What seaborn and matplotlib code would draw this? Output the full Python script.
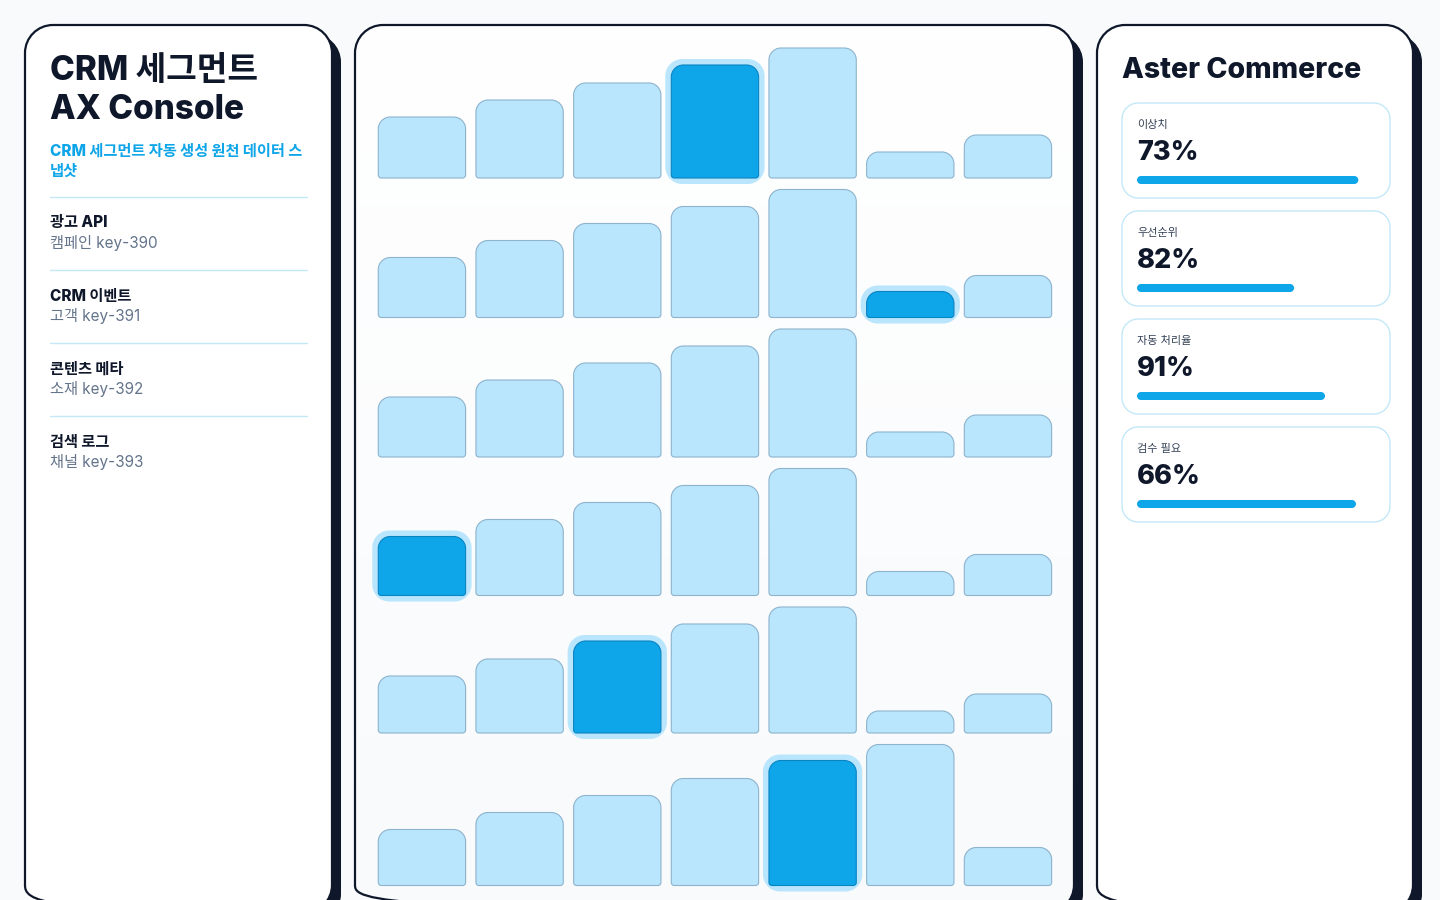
import matplotlib
matplotlib.use("Agg")
import matplotlib.pyplot as plt
import seaborn as sns
import numpy as np
from matplotlib.path import Path
from matplotlib.patches import PathPatch
from matplotlib.colors import LinearSegmentedColormap

# ---- data ----
slots = ["s1", "s2", "s3", "s4", "s5", "s6", "s7"]
row1 = [61, 78, 95, 113, 130, 26, 43]
row2 = [60, 77, 94, 111, 128, 26, 42]
row3 = [60, 77, 94, 111, 128, 25, 42]
row4 = [59, 76, 93, 110, 127, 24, 41]
row5 = [57, 74, 92, 109, 126, 22, 39]
row6 = [56, 73, 90, 107, 125, 141, 38]
rows = [row1, row2, row3, row4, row5, row6]
focus = [3, 5, None, 0, 2, 4]

src_names = ["광고 API", "CRM 이벤트", "콘텐츠 메타", "검색 로그"]
src_keys = ["캠페인 key-390", "고객 key-391", "소재 key-392", "채널 key-393"]

kpi_labels = ["이상치", "우선순위", "자동 처리율", "검수 필요"]
kpi_values = [73, 82, 91, 66]
kpi_fill = [93, 66, 79, 92]

# ---- style ----
W, H = 1440, 900
NAVY = "#0f172a"
SKY = "#0ea5e9"
PALE = "#bae6fd"
EDGE = "#8db3cd"
LINE = "#c3e8f8"
FONT = ["Inter", "Noto Sans CJK KR", "DejaVu Sans"]

sns.set_theme(style="white")
plt.rcParams["font.family"] = FONT


def rpath(x0, y0, w, h, rt, rb, sx=1.0, sy=1.0):
    # rectangle with radius rt at y0+h side and rb at y0 side (radii in px)
    k = 0.5523
    tx, ty, bx, by = rt * sx, rt * sy, rb * sx, rb * sy
    x1, y1 = x0 + w, y0 + h
    verts = [
        (x0 + bx, y0), (x1 - bx, y0),
        (x1 - bx + k * bx, y0), (x1, y0 + by - k * by), (x1, y0 + by),
        (x1, y1 - ty),
        (x1, y1 - ty + k * ty), (x1 - tx + k * tx, y1), (x1 - tx, y1),
        (x0 + tx, y1),
        (x0 + tx - k * tx, y1), (x0, y1 - ty + k * ty), (x0, y1 - ty),
        (x0, y0 + by),
        (x0, y0 + by - k * by), (x0 + bx - k * bx, y0), (x0 + bx, y0),
        (x0 + bx, y0),
    ]
    C = Path.CURVE4
    codes = [Path.MOVETO, Path.LINETO, C, C, C, Path.LINETO, C, C, C,
             Path.LINETO, C, C, C, Path.LINETO, C, C, C, Path.CLOSEPOLY]
    return Path(verts, codes)


fig = plt.figure(figsize=(14.4, 9), dpi=100)
fig.patch.set_facecolor("#f8fafc")

bg = fig.add_axes([0, 0, 1, 1])
bg.set_xlim(0, W)
bg.set_ylim(H, 0)
bg.axis("off")

# panels: shadow, fill, border
panels = [(25, 307), (355, 719), (1097, 316)]
ptop, pheight = 25, 888
for i, (px, pw) in enumerate(panels):
    bg.add_patch(PathPatch(rpath(px + 9, ptop + 9, pw, pheight, 28, 28),
                           fc=NAVY, ec="none", zorder=1))
    face = PathPatch(rpath(px, ptop, pw, pheight, 28, 28), fc="white",
                     ec="none", zorder=2)
    bg.add_patch(face)
    if i == 1:
        grad = LinearSegmentedColormap.from_list("g", ["#ffffff", "#f8fafc"])
        im = bg.imshow(np.linspace(0, 1, 256).reshape(-1, 1), cmap=grad,
                       extent=(px, px + pw, ptop + pheight, ptop),
                       aspect="auto", zorder=2.5)
        im.set_clip_path(face)
    bg.add_patch(PathPatch(rpath(px, ptop, pw, pheight, 28, 28), fc="none",
                           ec=NAVY, lw=1.6, zorder=3))
bg.set_xlim(0, W)
bg.set_ylim(H, 0)

# left panel text
bg.text(50, 71, "CRM 세그먼트", fontsize=24, weight="heavy", color=NAVY,
        va="center", zorder=5)
bg.text(50, 110, "AX Console", fontsize=24, weight="heavy", color=NAVY,
        va="center", zorder=5)
bg.text(50, 151, "CRM 세그먼트 자동 생성 원천 데이터 스", fontsize=11,
        weight="heavy", color=SKY, va="center", zorder=5)
bg.text(50, 171, "냅샷", fontsize=11, weight="heavy", color=SKY,
        va="center", zorder=5)
for i, (nm, key) in enumerate(zip(src_names, src_keys)):
    y = 197 + 73 * i
    bg.plot([50, 307], [y, y], color=LINE, lw=1, zorder=5)
    bg.text(50, y + 26, nm, fontsize=11, weight="heavy", color=NAVY,
            va="center", zorder=5)
    bg.text(50, y + 46, key, fontsize=11, color="#64748b", va="center",
            zorder=5)

# right panel text + cards
bg.text(1122, 70, "Aster Commerce", fontsize=20.5, weight="heavy", color=NAVY,
        va="center", zorder=5)
for i, (lab, val) in enumerate(zip(kpi_labels, kpi_values)):
    top = 103 + 108 * i
    bg.add_patch(PathPatch(rpath(1122, top, 268, 95, 16, 16), fc="white",
                           ec=LINE, lw=1, zorder=4))
    bg.text(1137, top + 22, lab, fontsize=8, color="#334155", va="center",
            zorder=5)
    bg.text(1137, top + 50, f"{val}%", fontsize=19.5, weight="heavy",
            color=NAVY, va="center", zorder=5)

# kpi progress bars
kax = fig.add_axes([1137 / W, 1 - 558 / H, 238 / W, 432 / H])
sns.barplot(x=kpi_fill, y=kpi_labels, orient="h", width=8 / 108, color=SKY,
            errorbar=None, ax=kax)
kax.set_xlim(0, 100)
kax.set_ylim(3.5, -0.5)
kax.axis("off")
ksx, ksy = 100 / 238, 4 / 432
for p in list(kax.patches):
    p.set_visible(False)
    kax.add_patch(PathPatch(rpath(p.get_x(), p.get_y(), p.get_width(),
                                  p.get_height(), 4, 4, ksx, ksy),
                            fc=SKY, ec="none", clip_on=False, zorder=6))

# bar grid
top = 48
gap = 11.5
for r, vals in enumerate(rows):
    hmax = max(vals)
    base = top + hmax
    ax = fig.add_axes([373.1 / W, 1 - base / H, 683.7 / W, hmax / H])
    sns.barplot(x=slots, y=vals, width=0.894, color=PALE, errorbar=None, ax=ax)
    ax.set_xlim(-0.5, 6.5)
    ax.set_ylim(0, hmax)
    ax.axis("off")
    sx, sy = 7 / 683.7, 1.0
    for j, p in enumerate(list(ax.patches)):
        x0, w, h = p.get_x(), p.get_width(), p.get_height()
        p.set_visible(False)
        if j == focus[r]:
            ax.add_patch(PathPatch(rpath(x0 - 6 * sx, -6 * sy, w + 12 * sx,
                                         h + 12 * sy, 17, 17, sx, sy),
                                   fc=PALE, ec="none", clip_on=False, zorder=2))
            ax.add_patch(PathPatch(rpath(x0, 0, w, h, 12, 3, sx, sy), fc=SKY,
                                   ec="#0b84c2", lw=0.8, clip_on=False, zorder=3))
        else:
            ax.add_patch(PathPatch(rpath(x0, 0, w, h, 12, 3, sx, sy), fc=PALE,
                                   ec=EDGE, lw=0.8, clip_on=False, zorder=3))
    top = base + gap

fig.savefig("out.png", dpi=100, facecolor=fig.get_facecolor())
